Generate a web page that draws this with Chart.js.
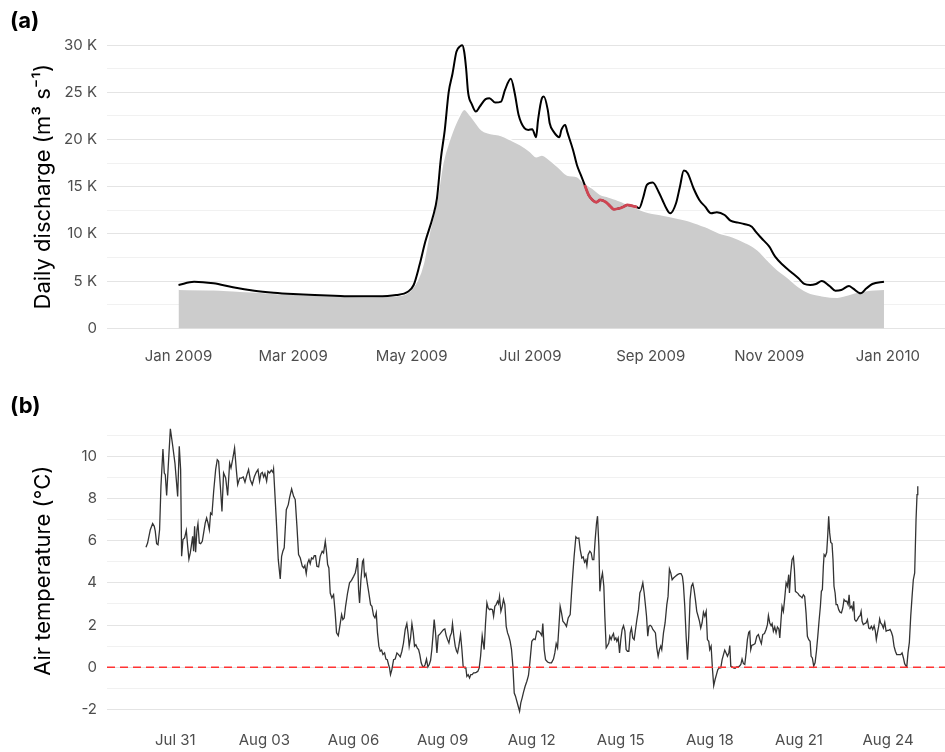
<!DOCTYPE html>
<html><head><meta charset="utf-8">
<script src="https://cdn.jsdelivr.net/npm/chart.js@4.4.1/dist/chart.umd.min.js"></script>
<style>
html,body{margin:0;padding:0;background:#fff;}
body{width:945px;height:752px;position:relative;overflow:hidden;font-family:Inter,'DejaVu Sans',sans-serif;}
.panel{position:absolute;left:0;width:945px;}
canvas{display:block;}
#wrapA{top:0;height:380px;}
#wrapB{top:380px;height:372px;}
.tag{position:absolute;font-weight:700;font-size:22px;line-height:1;color:#000;}
</style></head>
<body>
<div class="panel" id="wrapA"><canvas id="cA" width="945" height="380"></canvas></div>
<div class="panel" id="wrapB"><canvas id="cB" width="945" height="372"></canvas></div>
<div class="tag" style="left:10px;top:9px">(a)</div>
<div class="tag" style="left:10px;top:394px">(b)</div>
<script>
// ---------- Panel (a): daily discharge, days since 1 Jan 2009 ----------
const obsDays = [0,8,18,28,39,49,59,70,80,90,102,112,118,121,124,127,131,133,135,137,139,141,143,145,146,147,148,149,151,153,155,158,160,163,166,168,171,173,175,178,180,182,184,185,187,188,190,191,193,196,197,199,200,203,205,207,209,211,213,215,217,220,222,224,227,229,231,233,236,237,239,241,244,247,249,251,253,256,258,260,262,265,268,271,274,277,281,284,288,291,295,297,300,304,307,311,315,319,322,325,328,331,335,338,341,345,347,351,354,357,363];
const obsFlow = [4590,4940,4770,4350,3990,3780,3640,3530,3460,3390,3390,3530,3880,4590,6700,9200,11900,13800,18000,21000,25000,27000,29300,29900,30000,29300,27500,25000,23700,22960,23490,24280,24380,23920,24020,25260,26430,24910,22610,21200,21020,21100,20250,22080,24380,24550,23140,21730,20840,20250,21020,21550,20840,18900,17310,16250,15190,14130,13600,13360,13600,13360,12970,12610,12720,12890,13070,13000,12830,12720,13780,15190,15440,14480,13600,12720,12190,13250,15010,16710,16430,14840,13600,12890,12190,12300,12010,11410,11200,11060,10770,10240,9540,8650,7590,6710,6000,5300,4700,4590,4700,5010,4480,3990,4060,4480,4240,3710,4240,4700,4940];
const climDays = [0,18,30,40,50,60,70,80,90,100,110,117,123,126,129,133,136,140,144,147,150,152,156,160,166,171,176,181,184,187,191,196,200,205,208,213,217,221,225,228,232,237,242,249,257,264,271,278,285,292,298,303,308,314,319,324,331,339,344,349,356,363];
const climFlow = [4130,4100,3950,3850,3700,3600,3500,3430,3370,3350,3420,3650,5120,6890,10070,13600,17500,20300,22300,23200,22610,22080,21020,20670,20420,19960,19430,18720,18190,18370,17840,16960,16250,16070,15540,14840,14200,13950,13680,13420,13070,12610,12260,12010,11660,11300,10770,10130,9710,9070,8300,7240,6250,5300,4410,3820,3460,3290,3530,3820,4060,4130];
const hlDays = [209,211,213,215,217,220,222,224,227,229,231,233,236];
const hlFlow = [15190,14130,13600,13360,13600,13360,12970,12610,12720,12890,13070,13000,12830];
const monthTickDays = [0,59,120,181,243,304,365];
const monthTickLabels = ['Jan 2009','Mar 2009','May 2009','Jul 2009','Sep 2009','Nov 2009','Jan 2010'];
const flowTicks = [0,2500,5000,7500,10000,12500,15000,17500,20000,22500,25000,27500,30000];

// ---------- Panel (b): air temperature, hours since 30 Jul 00:00 ----------
const tempHours = [
0.3,1.6,3.8,5.7,7.0,7.8,8.9,10.0,11.3,12.4,14.0,15.1,15.9,17.0,18.3,20.0,21.6,23.7,24.8,25.9,27.2,28.3,29.1,30.2,31.5,32.9,34.0,35.0,36.1,36.9,38.0,38.8,39.6,40.4,41.5,42.3,43.4,44.5,45.8,46.9,48.2,49.3,50.4,51.5,52.5,53.6,55.0,56.6,57.9,59.0,60.4,61.7,63.0,64.7,66.3,67.9,69.0,70.3,71.9,73.3,74.4,76.0,77.3,78.9,80.3,81.9,83.2,84.6,86.2,87.8,89.4,90.8,92.1,93.2,94.3,95.4,96.4,97.8,98.9,100.2,101.6,102.9,103.4,
105.6,107.2,108.8,109.9,110.9,112.0,113.7,115.3,116.3,118.0,119.6,120.9,122.3,123.6,125.0,126.6,127.7,128.7,129.8,130.9,132.0,133.0,134.1,135.2,136.3,137.3,138.4,139.8,141.1,142.7,143.8,145.2,146.0,147.1,148.1,149.2,150.5,151.9,153.2,154.3,155.7,156.7,158.4,159.4,160.5,161.6,163.2,164.8,166.4,168.1,169.4,170.5,171.3,172.1,172.9,174.0,175.3,176.1,176.9,178.0,179.1,180.4,181.8,182.9,184.2,185.3,186.4,187.4,188.5,189.6,190.7,191.8,193.1,194.2,195.3,196.3,197.1,197.9,199.0,200.4,201.7,203.1,204.4,205.8,207.1,208.4,
209.8,211.1,212.2,213.0,214.1,215.2,216.3,217.3,218.4,219.5,220.6,221.6,222.7,223.8,224.9,225.9,227.0,228.1,229.2,230.3,231.3,232.4,233.2,234.3,235.4,236.5,237.5,238.6,239.7,240.8,241.8,242.9,244.0,245.1,246.1,247.2,248.0,249.1,250.2,251.3,252.1,253.1,254.5,255.6,256.6,257.7,258.8,259.6,260.7,261.8,262.8,263.9,265.0,266.1,267.2,268.5,269.6,270.7,272.0,273.6,274.7,275.8,276.8,277.9,279.0,280.3,281.2,282.2,283.3,284.4,285.2,286.0,287.1,288.2,289.2,290.3,291.4,292.5,293.5,294.6,295.7,296.8,297.9,298.9,300.0,301.1,302.2,303.2,304.3,305.4,306.7,308.1,309.4,310.5,
312.1,313.5,314.8,316.2,317.5,318.9,320.2,321.0,322.1,323.2,324.8,326.4,328.0,329.6,330.7,331.8,332.9,334.0,335.0,336.1,337.2,338.8,340.1,341.5,343.1,344.2,345.2,346.3,347.7,348.8,350.1,351.2,352.5,353.6,354.7,355.8,356.6,357.6,359.0,360.1,361.1,362.2,363.3,364.4,365.2,366.3,367.1,368.1,369.2,370.3,371.1,372.2,373.3,374.3,375.1,376.2,377.0,378.1,378.9,380.0,380.8,381.9,383.0,384.0,385.1,386.2,387.3,388.3,389.4,390.5,391.6,392.6,393.7,394.8,395.9,397.0,398.3,399.4,400.5,401.8,402.9,404.0,404.8,405.8,406.7,407.7,408.8,409.9,411.0,412.0,413.1,414.2,415.3,416.3,
417.1,418.5,419.8,421.2,422.2,423.3,424.4,425.5,426.6,428.2,429.8,431.4,432.7,433.8,434.6,435.7,436.8,437.9,438.9,440.0,441.1,442.2,443.2,444.3,445.4,446.5,447.6,448.6,449.7,450.8,451.9,453.0,454.0,455.1,455.9,457.0,458.1,459.1,460.2,461.3,462.4,463.7,464.8,465.9,467.0,468.0,469.1,470.2,471.3,472.1,472.9,474.0,475.0,476.4,477.7,478.8,479.9,481.0,482.0,483.1,484.2,485.3,486.3,487.4,488.2,489.0,489.8,491.2,492.5,493.9,495.2,496.6,497.6,498.7,500.1,501.4,502.5,503.3,504.4,505.5,506.3,507.3,508.4,509.5,510.6,511.7,512.5,513.5,514.3,515.4,516.5,517.6,518.6,519.7,520.3,521.3,522.4,523.5,
524.3,525.1,526.2,527.3,528.3,529.4,530.5,531.6,532.6,533.7,534.8,535.9,537.0,537.8,538.8,539.9,541.0,542.1,543.2,544.2,545.3,546.1,546.9,547.7,548.3,549.3,550.4,551.2,552.0,552.8,553.7,554.7,555.5,556.3,557.2,558.0,559.0,560.1,561.2,562.3,563.4,564.4,565.5,566.6,567.7,568.5,569.3,570.4,571.4,572.2,573.0,574.1,575.2,576.3,577.4,578.2,579.0,580.0,581.1,582.2,583.3,584.4,585.4,586.5,587.6,588.7,589.7,590.5,591.4,592.4,593.2,594.0,595.1,596.2,597.3,598.4,599.4,600.5,601.6,602.7,603.7,604.8,605.9,607.0,608.1,609.1,610.2,611.3,612.4,613.4,614.5,615.1,616.1,617.2,618.3,619.4,620.4,621.5,622.6,623.4,624.0];
const tempValues = [
5.69,5.89,6.52,6.81,6.68,6.45,5.86,5.81,6.52,8.58,10.35,9.21,9.13,8.14,9.53,11.30,10.63,9.68,8.89,8.10,10.47,9.37,5.26,6.05,6.13,6.49,5.73,5.13,5.42,5.73,6.21,5.50,6.68,5.45,6.52,6.81,5.89,5.86,5.97,6.37,6.84,7.08,6.84,6.52,7.31,7.24,8.34,9.37,9.84,9.76,8.58,7.39,9.21,8.97,8.14,9.68,9.45,9.84,10.39,9.37,8.66,8.97,8.97,9.02,8.77,9.13,9.37,8.89,8.66,9.02,9.24,9.37,8.82,9.18,9.24,9.02,9.18,8.82,9.29,9.21,9.34,9.24,9.40,
7.00,5.10,4.19,5.26,5.50,5.66,7.47,7.71,8.03,8.45,8.10,7.95,6.68,5.34,5.18,4.79,4.71,4.82,4.44,4.94,5.10,4.91,5.18,5.13,5.29,5.29,4.79,4.76,5.26,5.50,5.42,5.97,5.58,4.87,4.71,3.52,3.29,3.44,2.58,1.63,1.50,1.86,2.50,2.26,2.34,2.89,3.52,4.00,4.12,4.31,4.47,4.79,5.18,3.68,3.05,4.15,5.02,5.10,4.31,4.44,4.00,3.52,2.97,2.89,2.45,2.34,2.58,1.63,1.00,0.76,0.81,0.60,0.68,0.39,0.36,0.13,-0.03,-0.35,-0.11,0.36,0.39,0.68,0.60,0.49,0.76,1.15,
1.79,2.07,1.55,1.00,1.39,2.07,1.63,1.00,1.07,0.92,0.84,0.60,0.21,0.05,0.02,0.13,0.39,0.02,0.13,0.33,0.84,1.63,2.26,1.63,0.68,1.50,1.55,1.63,1.71,1.79,1.82,1.50,1.31,1.15,1.47,1.63,2.07,1.47,1.00,0.76,0.68,1.00,1.55,0.84,0.05,-0.03,-0.03,-0.43,-0.35,-0.51,-0.35,-0.35,-0.27,-0.27,-0.24,-0.19,-0.03,0.52,1.50,0.84,2.10,3.05,2.81,2.73,2.76,2.73,2.42,2.89,2.97,3.13,3.02,3.36,2.65,2.89,3.21,2.97,1.94,1.63,1.47,1.23,0.84,0.05,-1.22,-1.37,-1.61,-1.85,-2.09,-1.69,-1.45,-1.18,-0.90,-0.66,-0.39,0.21,
1.23,1.34,1.31,1.71,1.71,1.63,1.50,2.07,0.84,0.36,0.25,0.21,0.21,0.39,0.68,1.12,0.92,1.94,2.89,2.58,2.18,2.07,1.94,2.34,2.50,3.52,4.39,5.26,6.18,6.11,6.13,5.58,5.18,5.23,4.98,5.10,4.82,5.34,5.50,5.42,5.10,5.10,6.05,6.84,7.16,5.73,3.60,4.15,4.47,3.84,2.42,0.92,1.03,1.15,1.47,1.31,1.47,1.60,1.31,1.39,1.23,1.39,0.68,1.31,1.79,1.97,1.71,0.84,0.76,0.76,1.63,1.86,1.39,1.31,1.79,2.26,2.73,3.52,3.68,4.00,3.52,2.89,2.42,1.47,1.94,1.99,1.94,1.79,1.71,1.63,0.92,0.52,0.84,1.00,
0.84,1.63,2.10,2.97,3.36,4.66,4.47,4.15,4.23,4.31,4.39,4.44,4.44,4.31,3.92,2.89,1.47,0.36,1.47,3.21,3.84,3.97,3.68,3.21,2.65,2.42,2.18,1.86,2.10,2.61,2.42,2.65,1.31,1.23,0.84,1.00,-0.11,-0.87,-0.58,-0.35,-0.11,-0.03,-0.03,0.36,0.60,0.81,0.68,0.52,0.68,1.03,0.05,0.02,-0.03,-0.05,0.02,0.02,0.05,0.13,0.39,0.17,0.13,0.68,1.31,1.66,1.71,0.84,1.03,1.07,1.12,1.47,1.55,1.28,1.12,1.55,1.60,1.79,2.02,2.45,2.10,1.97,2.07,1.71,1.91,1.63,1.91,1.82,1.39,2.26,2.89,2.65,3.29,4.00,3.84,4.39,3.52,4.47,5.10,5.23,
4.63,3.60,3.55,3.49,3.40,3.36,3.29,3.44,3.36,2.58,1.47,1.31,1.23,0.52,0.44,0.05,0.21,0.76,1.47,2.18,2.89,3.60,3.68,4.79,5.34,5.26,5.45,6.21,7.16,6.37,5.92,5.86,5.10,3.84,3.52,2.97,2.97,2.73,2.61,2.58,2.81,3.21,3.13,3.13,2.97,3.44,2.81,2.89,2.73,3.13,2.26,2.18,2.26,2.39,2.45,2.65,2.18,2.02,2.07,2.10,2.26,1.86,1.82,1.94,1.79,1.97,1.71,1.31,1.63,1.94,2.29,2.10,2.02,1.86,2.13,1.71,1.75,1.75,1.79,1.66,1.47,1.00,0.76,0.60,0.60,0.60,0.60,0.68,0.44,0.17,0.05,0.02,0.68,1.18,2.42,3.36,4.15,4.47,7.00,8.18,8.58];
const dayTickHours = [24,96,168,240,312,384,456,528,600];
const dayTickLabels = ['Jul 31','Aug 03','Aug 06','Aug 09','Aug 12','Aug 15','Aug 18','Aug 21','Aug 24'];
const tempTicks = [-2,-1,0,1,2,3,4,5,6,7,8,9,10,11];
const freezingLevel = 0;

// ---------- rendering ----------
const FONT = "Inter, 'DejaVu Sans', sans-serif";
Chart.defaults.font.family = FONT;
const pts = (xs, ys) => xs.map((x, i) => ({x: x, y: ys[i]}));
const gridStyle = (isMajor) => ({
  drawTicks: false,
  color: ctx => (ctx.tick && isMajor(ctx.tick.value)) ? '#e4e4e4' : '#efefef',
  lineWidth: ctx => (ctx.tick && isMajor(ctx.tick.value)) ? 1.1 : 0.9
});

new Chart(document.getElementById('cA'), {
  type: 'line',
  data: { datasets: [
    { data: pts(hlDays, hlFlow), borderColor: '#cf4452', borderWidth: 2.8, pointRadius: 0, cubicInterpolationMode: 'monotone', fill: false, order: 1 },
    { data: pts(obsDays, obsFlow), borderColor: '#000000', borderWidth: 2, pointRadius: 0, cubicInterpolationMode: 'monotone', fill: false, order: 2 },
    { data: pts(climDays, climFlow), borderColor: '#ffffff', borderWidth: 1.5, backgroundColor: '#cccccc', fill: 'origin', pointRadius: 0, cubicInterpolationMode: 'monotone', order: 3 }
  ]},
  options: {
    responsive: false, animation: false, events: [],
    layout: { padding: { top: 31, right: 0, bottom: 0, left: 0 } },
    plugins: { legend: { display: false }, tooltip: { enabled: false } },
    scales: {
      x: { type: 'linear', min: -36.8, max: 394.4,
        grid: { display: false, drawTicks: false }, border: { display: false },
        afterBuildTicks: s => { s.ticks = monthTickDays.map(v => ({ value: v })); },
        afterFit: s => { s.height = 37.5; },
        ticks: { autoSkip: false, maxRotation: 0, padding: 5, color: '#4d4d4d', font: { size: 15 },
          callback: (v, i) => monthTickLabels[i] } },
      y: { type: 'linear', min: -1500, max: 31500,
        border: { display: false },
        grid: gridStyle(v => v % 5000 === 0),
        afterBuildTicks: s => { s.ticks = flowTicks.map(v => ({ value: v })); },
        afterFit: s => { s.width = 107; },
        ticks: { padding: 10, color: '#4d4d4d', font: { size: 15 },
          callback: v => v % 5000 === 0 ? (v === 0 ? '0' : (v / 1000) + ' K') : '' },
        title: { display: true, text: 'Daily discharge (m³ s⁻¹)', color: '#000', font: { size: 22 }, padding: { top: 30, bottom: 0 } } }
    }
  }
});

const zeroLine = {
  id: 'zeroLine',
  afterDatasetsDraw(chart) {
    const { ctx, chartArea, scales } = chart;
    const y = scales.y.getPixelForValue(freezingLevel);
    ctx.save();
    ctx.strokeStyle = '#ff3333';
    ctx.lineWidth = 1.3;
    ctx.setLineDash([8, 5]);
    ctx.beginPath();
    ctx.moveTo(chartArea.left, y);
    ctx.lineTo(chartArea.right, y);
    ctx.stroke();
    ctx.restore();
  }
};

new Chart(document.getElementById('cB'), {
  type: 'line',
  data: { datasets: [
    { data: pts(tempHours, tempValues), borderColor: '#333333', borderWidth: 1.3, pointRadius: 0, tension: 0, fill: false }
  ]},
  options: {
    responsive: false, animation: false, events: [],
    layout: { padding: { top: 35.8, right: 0, bottom: 0, left: 0 } },
    plugins: { legend: { display: false }, tooltip: { enabled: false } },
    scales: {
      x: { type: 'linear', min: -31.2, max: 646,
        grid: { display: false, drawTicks: false }, border: { display: false },
        afterBuildTicks: s => { s.ticks = dayTickHours.map(v => ({ value: v })); },
        afterFit: s => { s.height = 26.3; },
        ticks: { autoSkip: false, maxRotation: 0, padding: 6, color: '#4d4d4d', font: { size: 15 },
          callback: (v, i) => dayTickLabels[i] } },
      y: { type: 'linear', min: -2.77, max: 11.92,
        border: { display: false },
        grid: gridStyle(v => v % 2 === 0),
        afterBuildTicks: s => { s.ticks = tempTicks.map(v => ({ value: v })); },
        afterFit: s => { s.width = 107; },
        ticks: { padding: 10, color: '#4d4d4d', font: { size: 15 },
          callback: v => v % 2 === 0 ? String(v) : '' },
        title: { display: true, text: 'Air temperature (°C)', color: '#000', font: { size: 22 }, padding: { top: 30, bottom: 0 } } }
    }
  },
  plugins: [zeroLine]
});
</script>
</body></html>
